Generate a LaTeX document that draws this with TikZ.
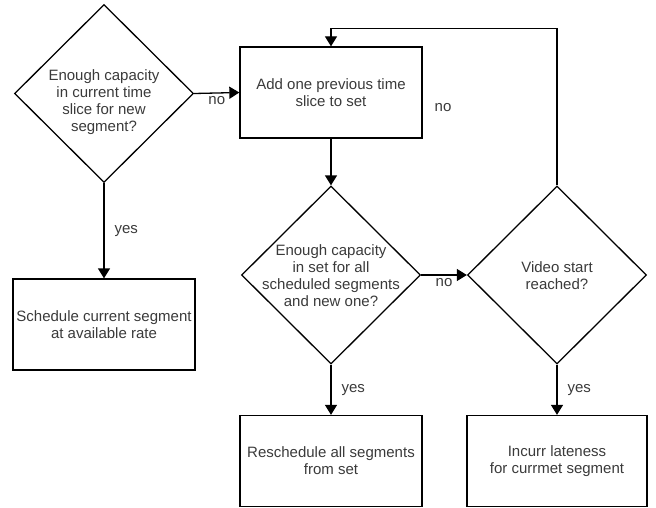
\documentclass[tikz,border=0pt]{standalone}
\usepackage{fontspec}
\setmainfont{Liberation Sans}
\usepackage{xcolor}
\usetikzlibrary{shapes.geometric}
\usetikzlibrary{arrows.meta}
\usetikzlibrary{positioning}
\definecolor{txtgray}{HTML}{3A3A3A}

\begin{document}
\begin{tikzpicture}[x=1pt,y=-1pt,line width=1.3pt,
  decision/.style={diamond, draw, minimum width=179pt, minimum height=178pt, inner sep=0pt},
  block/.style={rectangle, draw, minimum width=182pt, minimum height=91pt, inner sep=0pt, align=center, text=txtgray, font=\fontsize{15}{17}\selectfont},
  qtext/.style={align=center, text=txtgray, font=\fontsize{15}{17}\selectfont},
  lbl/.style={text=txtgray, font=\fontsize{15}{17}\selectfont, inner sep=1pt},
  arr/.style={-{Triangle[length=10pt,width=12pt]}}]
\useasboundingbox (0,0) rectangle (656,508);
% decisions
\node [decision] (q1) at (104,93.5) {};
\node [qtext] (q1t) at (104,102.5) {Enough capacity\\in current time\\slice for new\\segment?};
\node [decision] (q2) at (331,275) {};
\node [qtext] (q2t) at (331,276) {Enough capacity\\in set for all\\scheduled segments\\and new one?};
\node [decision] (q3) at (557,275) {};
\node [qtext] (q3t) at (557,276) {Video start\\reached?};
% actions
\node [block] (add) at (331,92.5) {Add one previous time\\slice to set};
\node [block] (sched) at (104,324.5) {Schedule current segment\\at available rate};
\node [block] (resch) at (331,461) {Reschedule all segments\\from set};
\node [block, minimum width=180pt] (incurr) at (557,461) {Incurr lateness\\for currmet segment};
% connectors
\draw [arr] (q1.east) -- node[lbl, below=2pt] {no} (add.west);
\draw [arr] (q1.south) -- node[lbl, right=9pt] {yes} (sched.north);
\draw [arr] (add.south) -- (q2.north);
\draw [arr] (q2.east) -- node[lbl, below=2pt] {no} (q3.west);
\draw [arr] (q2.south) -- node[lbl, right=9pt] {yes} (resch.north);
\draw [arr] (q3.south) -- node[lbl, right=9pt] {yes} (incurr.north);
\draw [arr] (q3.north) -- ++(0,-157) -| (add.north);
\node [lbl] (noloop) at (443,108) {no};

\end{tikzpicture}
\end{document}
